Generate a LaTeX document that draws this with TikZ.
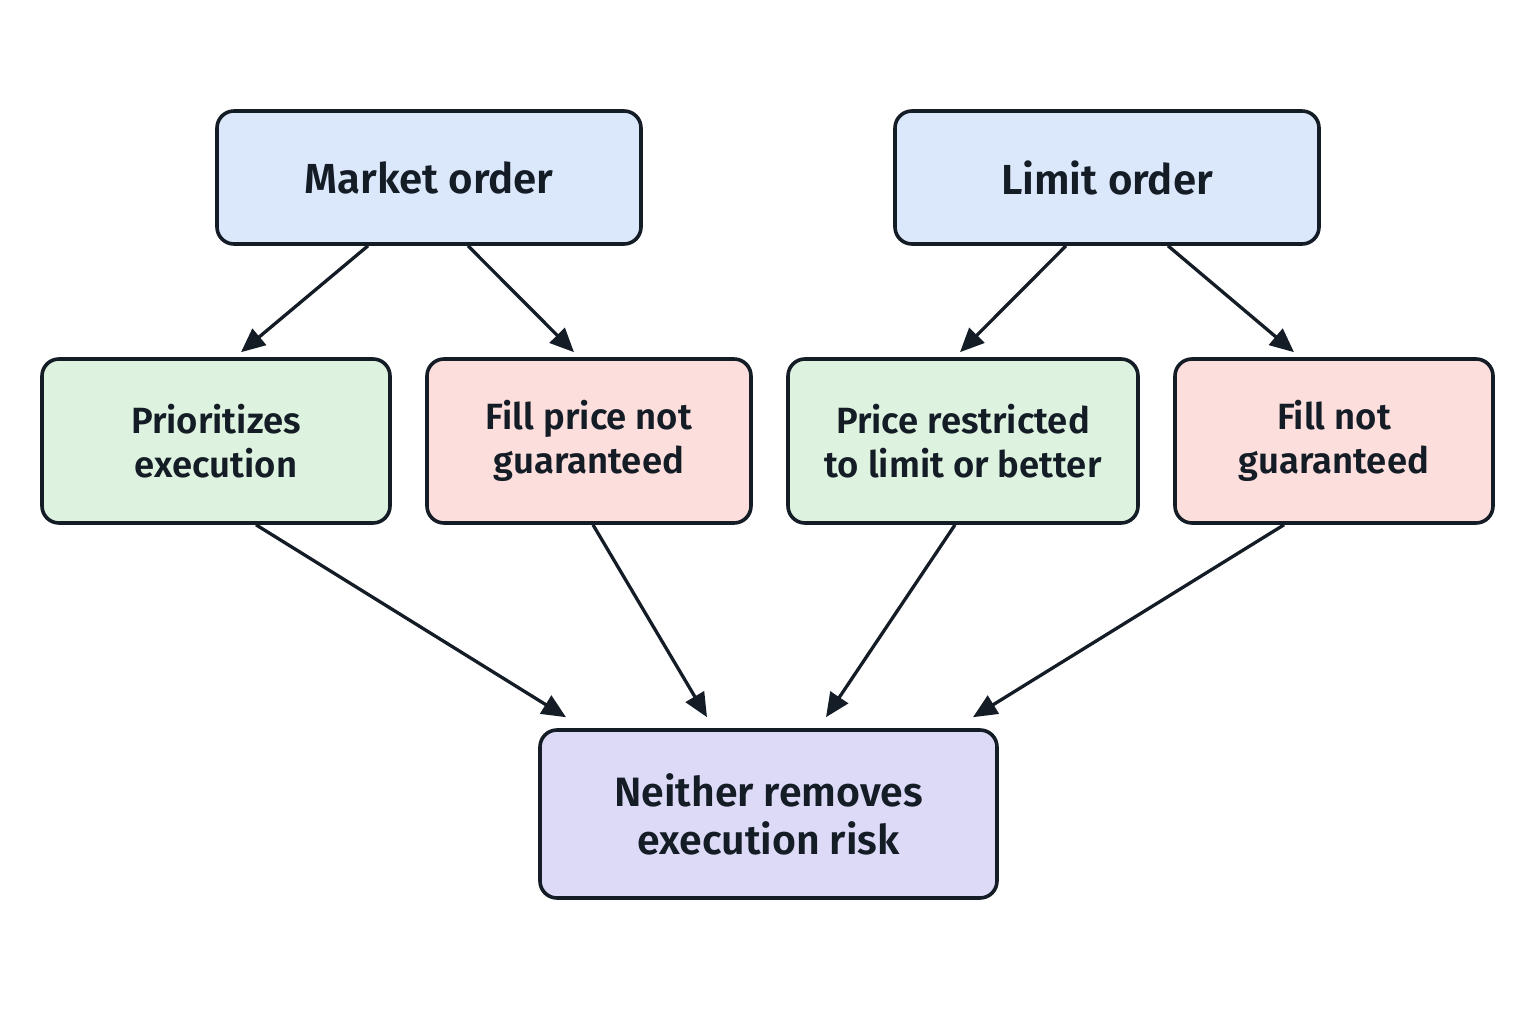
\documentclass[tikz,border=0pt]{standalone}
\usepackage{fontspec}
\setmainfont{Fira Sans}[UprightFont=* SemiBold]
\usetikzlibrary{arrows.meta}
\definecolor{bluef}{HTML}{DBE8FB}
\definecolor{greenf}{HTML}{DDF2DF}
\definecolor{redf}{HTML}{FCDEDD}
\definecolor{purplef}{HTML}{DCDAF7}
\definecolor{edge}{HTML}{141C26}
\tikzset{
  box/.style={draw=edge, line width=3.6pt, rounded corners=17pt, align=center, text=edge, inner sep=0pt},
  top/.style={box, fill=bluef, minimum width=424pt, minimum height=133pt, font=\fontsize{42}{50}\selectfont},
  mid/.style={box, minimum height=164pt, font=\fontsize{36.5}{44}\selectfont},
  bot/.style={box, fill=purplef, minimum width=457pt, minimum height=168pt, font=\fontsize{41}{48}\selectfont},
  arr/.style={draw=edge, line width=3.3pt, -{Triangle[length=24pt,width=21pt]}}
}
\begin{document}
\begin{tikzpicture}[x=1pt,y=-1pt]
\useasboundingbox[fill=white] (0,0) rectangle (1536,1024);
\node[top] (mk) at (429,177.5) {Market order};
\node[top] (lo) at (1107,177.5) {Limit order};
\node[mid, fill=greenf, minimum width=348pt] (pe) at (216,441) {Prioritizes\\execution};
\node[mid, fill=redf, minimum width=324pt] (fp) at (589,441) {Fill price not\\guaranteed};
\node[mid, fill=greenf, minimum width=350pt] (pr) at (963,441) {Price restricted\\to limit or better};
\node[mid, fill=redf, minimum width=318pt] (fn) at (1334,441) {Fill not\\guaranteed};
\node[bot] (ne) at (768.5,814) {Neither removes\\execution risk};
\draw[arr] ([xshift=-61pt]mk.south) -- ([xshift=25pt,yshift=5pt]pe.north);
\draw[arr] ([xshift=39pt]mk.south) -- ([xshift=-15pt,yshift=5pt]fp.north);
\draw[arr] ([xshift=-41pt]lo.south) -- ([xshift=-3pt,yshift=5pt]pr.north);
\draw[arr] ([xshift=61pt]lo.south) -- ([xshift=-40pt,yshift=5pt]fn.north);
\draw[arr] ([xshift=40pt]pe.south) -- ([xshift=-202.5pt,yshift=11pt]ne.north);
\draw[arr] ([xshift=4pt]fp.south) -- ([xshift=-61.5pt,yshift=11pt]ne.north);
\draw[arr] ([xshift=-8pt]pr.south) -- ([xshift=57.5pt,yshift=11pt]ne.north);
\draw[arr] ([xshift=-50pt]fn.south) -- ([xshift=204.5pt,yshift=11pt]ne.north);
\end{tikzpicture}
\end{document}
